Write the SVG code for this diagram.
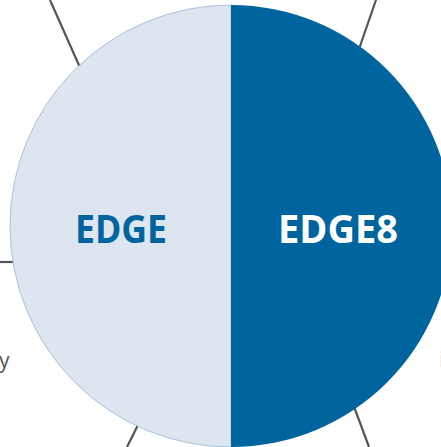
<svg xmlns="http://www.w3.org/2000/svg" width="441" height="447" viewBox="0 0 441 447">
<style>
.conn{stroke:#555555;stroke-width:2.2;fill:none}
.lbl{font-family:"Open Sans","Liberation Sans",sans-serif;font-weight:bold;font-size:39px;text-anchor:middle}
.side{font-family:"Open Sans","Liberation Sans",sans-serif;font-size:21px;fill:#555555}
.faint{fill:#d0d0d0}
</style>
<rect width="441" height="447" fill="#ffffff"/>
<g id="connectors">
<line class="conn" x1="50" y1="0" x2="82" y2="72"/>
<line class="conn" x1="376" y1="0" x2="358" y2="52"/>
<line class="conn" x1="0" y1="262" x2="14" y2="262"/>
<line class="conn" x1="127" y1="447" x2="140" y2="421"/>
<line class="conn" x1="353" y1="404" x2="369" y2="447"/>
</g>
<g id="node-edge">
<path d="M231,5 A221,221 0 0 0 231,447 Z" fill="#dde5f0" stroke="#aac3da" stroke-width="1"/>
<text class="lbl" x="121" y="243" fill="#00649e" textLength="92" lengthAdjust="spacingAndGlyphs">EDGE</text>
</g>
<g id="node-edge8">
<path d="M231,5 A221,221 0 0 1 231,447 Z" fill="#00649e"/>
<text class="lbl" x="338" y="243" fill="#ffffff" textLength="120" lengthAdjust="spacingAndGlyphs">EDGE8</text>
</g>
<text class="side" x="-1" y="368">y</text>
<text class="side faint" x="439" y="367">i</text>
</svg>
